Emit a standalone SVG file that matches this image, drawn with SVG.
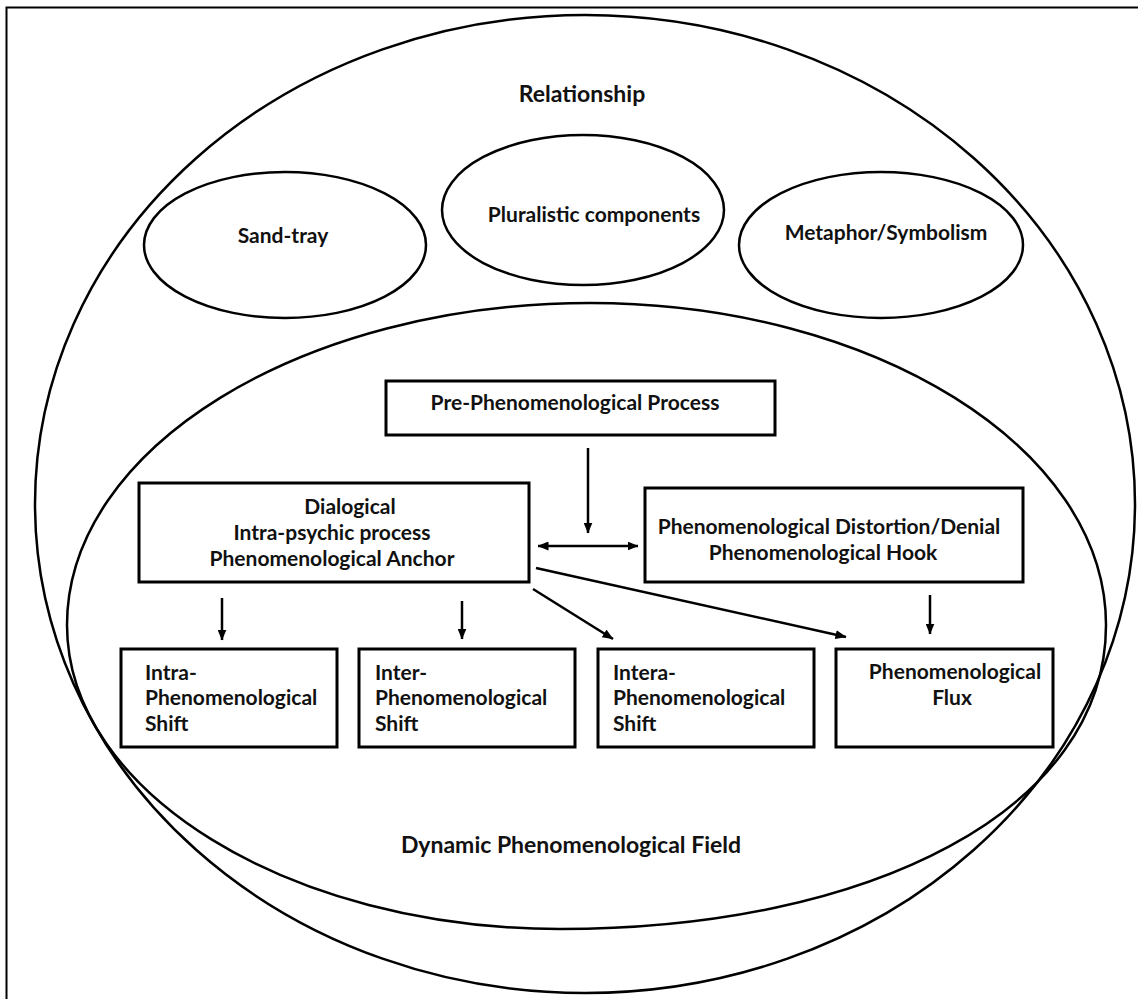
<svg xmlns="http://www.w3.org/2000/svg" width="1138" height="999" viewBox="0 0 1138 999">
<style>
.bg{fill:#fff}
.frame{fill:none;stroke:#000;stroke-width:2}
.ell{fill:none;stroke:#000;stroke-width:2.5}
.box{fill:#fff;stroke:#000;stroke-width:3}
.lbl{font-family:Lato,"DejaVu Sans",sans-serif;font-weight:bold;font-size:21px;fill:#111}
.big{font-size:23px}
.mid{text-anchor:middle}
.con{stroke:#000;stroke-width:2.5;fill:none}
</style>
<defs>
<marker id="ah" markerUnits="userSpaceOnUse" markerWidth="11" markerHeight="9" refX="10.5" refY="4.5" orient="auto-start-reverse">
<path d="M0,0 L11,4.5 L0,9 z" fill="#000"/>
</marker>
</defs>
<rect class="bg" x="0" y="0" width="1138" height="999"/>
<path class="frame" d="M6.5,1000 V7.5 H1140"/>
<g id="relationship">
<ellipse class="ell" cx="585" cy="504" rx="550" ry="489"/>
<text class="lbl big mid" x="582" y="102">Relationship</text>
</g>
<g id="field">
<path class="ell" d="M590,303 C874,303 1106,448 1106,625 C1106,810 870,929 560,929 C289,929 67,792 67,625 C67,448 302,303 590,303 Z"/>
<text class="lbl big mid" x="571" y="853">Dynamic Phenomenological Field</text>
</g>
<g id="sandtray">
<ellipse class="ell" cx="285" cy="245" rx="141" ry="73"/>
<text class="lbl mid" x="283" y="243">Sand-tray</text>
</g>
<g id="pluralistic">
<ellipse class="ell" cx="583" cy="210" rx="141" ry="75"/>
<text class="lbl mid" x="594" y="222">Pluralistic components</text>
</g>
<g id="metaphor">
<ellipse class="ell" cx="881" cy="245" rx="142" ry="73"/>
<text class="lbl mid" x="886" y="240">Metaphor/Symbolism</text>
</g>
<g id="prephen">
<rect class="box" x="386" y="381" width="389" height="54"/>
<text class="lbl mid" x="575" y="410">Pre-Phenomenological Process</text>
</g>
<g id="dialogical">
<rect class="box" x="139" y="483" width="390" height="99"/>
<text class="lbl mid" x="350" y="514">Dialogical</text>
<text class="lbl mid" x="332" y="540">Intra-psychic process</text>
<text class="lbl mid" x="332" y="566">Phenomenological Anchor</text>
</g>
<g id="distortion">
<rect class="box" x="645" y="488" width="378" height="94"/>
<text class="lbl mid" x="829" y="534">Phenomenological Distortion/Denial</text>
<text class="lbl mid" x="823" y="560">Phenomenological Hook</text>
</g>
<g id="intra">
<rect class="box" x="121" y="649" width="216" height="98"/>
<text class="lbl" x="145" y="680">Intra-</text>
<text class="lbl" x="145" y="705">Phenomenological</text>
<text class="lbl" x="145" y="731">Shift</text>
</g>
<g id="inter">
<rect class="box" x="359" y="649" width="216" height="98"/>
<text class="lbl" x="375" y="680">Inter-</text>
<text class="lbl" x="375" y="705">Phenomenological</text>
<text class="lbl" x="375" y="731">Shift</text>
</g>
<g id="intera">
<rect class="box" x="598" y="649" width="216" height="98"/>
<text class="lbl" x="613" y="680">Intera-</text>
<text class="lbl" x="613" y="705">Phenomenological</text>
<text class="lbl" x="613" y="731">Shift</text>
</g>
<g id="flux">
<rect class="box" x="836" y="649" width="217" height="98"/>
<text class="lbl mid" x="955" y="679">Phenomenological</text>
<text class="lbl mid" x="952" y="705">Flux</text>
</g>
<g id="connectors">
<line class="con" x1="588" y1="448" x2="588" y2="533" marker-end="url(#ah)"/>
<line class="con" x1="538" y1="546" x2="638" y2="546" marker-start="url(#ah)" marker-end="url(#ah)"/>
<line class="con" x1="222" y1="598" x2="222" y2="640" marker-end="url(#ah)"/>
<line class="con" x1="462" y1="601" x2="462" y2="639" marker-end="url(#ah)"/>
<line class="con" x1="930" y1="595" x2="930" y2="634" marker-end="url(#ah)"/>
<line class="con" x1="533" y1="589" x2="613" y2="639" marker-end="url(#ah)"/>
<line class="con" x1="536" y1="568" x2="846" y2="637" marker-end="url(#ah)"/>
</g>
</svg>
